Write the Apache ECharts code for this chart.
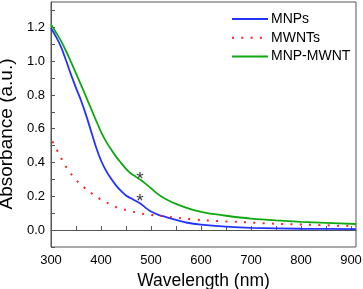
<!DOCTYPE html>
<html>
<head>
<meta charset="utf-8">
<script src="https://cdn.jsdelivr.net/npm/echarts@6/dist/echarts.min.js"></script>
<style>html,body{margin:0;padding:0;background:#fff;}#c{width:363px;height:289px;}</style>
</head>
<body>
<div id="c"></div>
<script>
var mnpX = [300, 310, 320, 330, 340, 350, 360, 370, 380, 390, 400, 410, 420, 430, 440, 450, 460, 470, 480, 490, 500, 515, 530, 550, 570, 600, 650, 700, 800, 910];
var mnpY = [1.195, 1.145, 1.085, 1.005, 0.92, 0.842, 0.767, 0.682, 0.587, 0.492, 0.412, 0.352, 0.305, 0.265, 0.232, 0.205, 0.188, 0.172, 0.155, 0.13, 0.11, 0.09, 0.077, 0.06, 0.045, 0.032, 0.02, 0.013, 0.008, 0.006];
var mwntX = [303, 315, 326, 339, 355, 375, 391, 411, 431, 448, 465, 483, 521, 558, 611, 678, 745, 811, 878, 910];
var mwntY = [0.525, 0.456, 0.395, 0.337, 0.281, 0.232, 0.197, 0.164, 0.135, 0.120, 0.108, 0.097, 0.083, 0.071, 0.057, 0.048, 0.038, 0.032, 0.026, 0.024];
var hybX = [300, 310, 320, 330, 340, 350, 360, 370, 380, 390, 400, 410, 420, 430, 440, 450, 460, 470, 480, 490, 500, 510, 520, 535, 550, 570, 590, 610, 650, 700, 750, 800, 850, 910];
var hybY = [1.217, 1.17, 1.12, 1.06, 0.995, 0.928, 0.86, 0.79, 0.72, 0.65, 0.582, 0.525, 0.478, 0.435, 0.398, 0.363, 0.335, 0.315, 0.295, 0.272, 0.248, 0.222, 0.2, 0.175, 0.155, 0.133, 0.115, 0.102, 0.085, 0.068, 0.057, 0.049, 0.043, 0.036];
var starX = [478, 478];
var starY = [0.33, 0.20];
var xTickLabels = [300, 400, 500, 600, 700, 800, 900];
var xTicks = [300, 350, 400, 450, 500, 550, 600, 650, 700, 750, 800, 850, 900];
var yTickLabels = [0, 0.2, 0.4, 0.6, 0.8, 1.0, 1.2];
var yTicks = [-0.1, 0, 0.1, 0.2, 0.3, 0.4, 0.5, 0.6, 0.7, 0.8, 0.9, 1.0, 1.1, 1.2, 1.3];
var seriesNames = ['MNPs', 'MWNTs', 'MNP-MWNT'];

function zip(a, b) { return a.map(function (v, i) { return [v, b[i]]; }); }

var axisColor = '#555';
var font = 'Liberation Sans, Arial, sans-serif';
var chart = echarts.init(document.getElementById('c'), null, {renderer: 'canvas'});
chart.setOption({
  animation: false,
  backgroundColor: '#fff',
  grid: {left: 51, right: 7, top: 2, bottom: 42, show: true, borderColor: axisColor, borderWidth: 1,
    containLabel: false, outerBoundsMode: 'none'},
  legend: {
    orient: 'vertical', left: 231, top: 12, padding: 0,
    itemWidth: 36, itemHeight: 14, itemGap: 4.8,
    itemStyle: {opacity: 0},
    textStyle: {fontFamily: font, fontSize: 14, color: '#000', padding: [0, 0, 0, -2]},
    data: seriesNames
  },
  xAxis: {
    type: 'value', min: 300, max: 910,
    name: 'Wavelength (nm)', nameLocation: 'middle', nameGap: 18,
    nameTextStyle: {fontFamily: font, fontSize: 17.5, color: '#000'},
    axisLine: {show: true, lineStyle: {color: axisColor, width: 1}},
    axisTick: {show: true, inside: true, length: 4, customValues: xTicks, lineStyle: {color: axisColor}},
    axisLabel: {customValues: xTickLabels, fontFamily: font, fontSize: 13, color: '#000', margin: 7},
    splitLine: {show: false}
  },
  yAxis: {
    type: 'value', min: -0.1, max: 1.35,
    name: 'Absorbance (a.u.)', nameLocation: 'middle', nameGap: 32,
    nameTextStyle: {fontFamily: font, fontSize: 19, color: '#000', padding: [0, 19, 0, 0]},
    axisLine: {show: true, lineStyle: {color: axisColor, width: 1}},
    axisTick: {show: true, inside: true, length: 4, customValues: yTicks, lineStyle: {color: axisColor}},
    axisLabel: {customValues: yTickLabels, fontFamily: font, fontSize: 13, color: '#000', margin: 6,
      formatter: function (v) { return Number(v).toFixed(1); }},
    splitLine: {show: false}
  },
  series: [
    {name: seriesNames[0], type: 'line', data: zip(mnpX, mnpY), symbol: 'none', smooth: 0.3,
      lineStyle: {color: '#2233ff', width: 1.8}, itemStyle: {color: '#2233ff'}},
    {name: seriesNames[1], type: 'line', data: zip(mwntX, mwntY), symbol: 'none', smooth: 0.3,
      lineStyle: {color: '#ff2020', width: 2, type: [2, 7.3]}, itemStyle: {color: '#ff2020'}},
    {name: seriesNames[2], type: 'line', data: zip(hybX, hybY), symbol: 'none', smooth: 0.3,
      lineStyle: {color: '#10a810', width: 1.8}, itemStyle: {color: '#10a810'}},
    {name: 'marks', type: 'scatter', data: zip(starX, starY), symbolSize: 0, silent: true,
      label: {show: true, position: 'inside', formatter: '*', fontFamily: font, fontSize: 19,
        color: '#000', offset: [0, 5]}}
  ]
});
</script>
</body>
</html>
